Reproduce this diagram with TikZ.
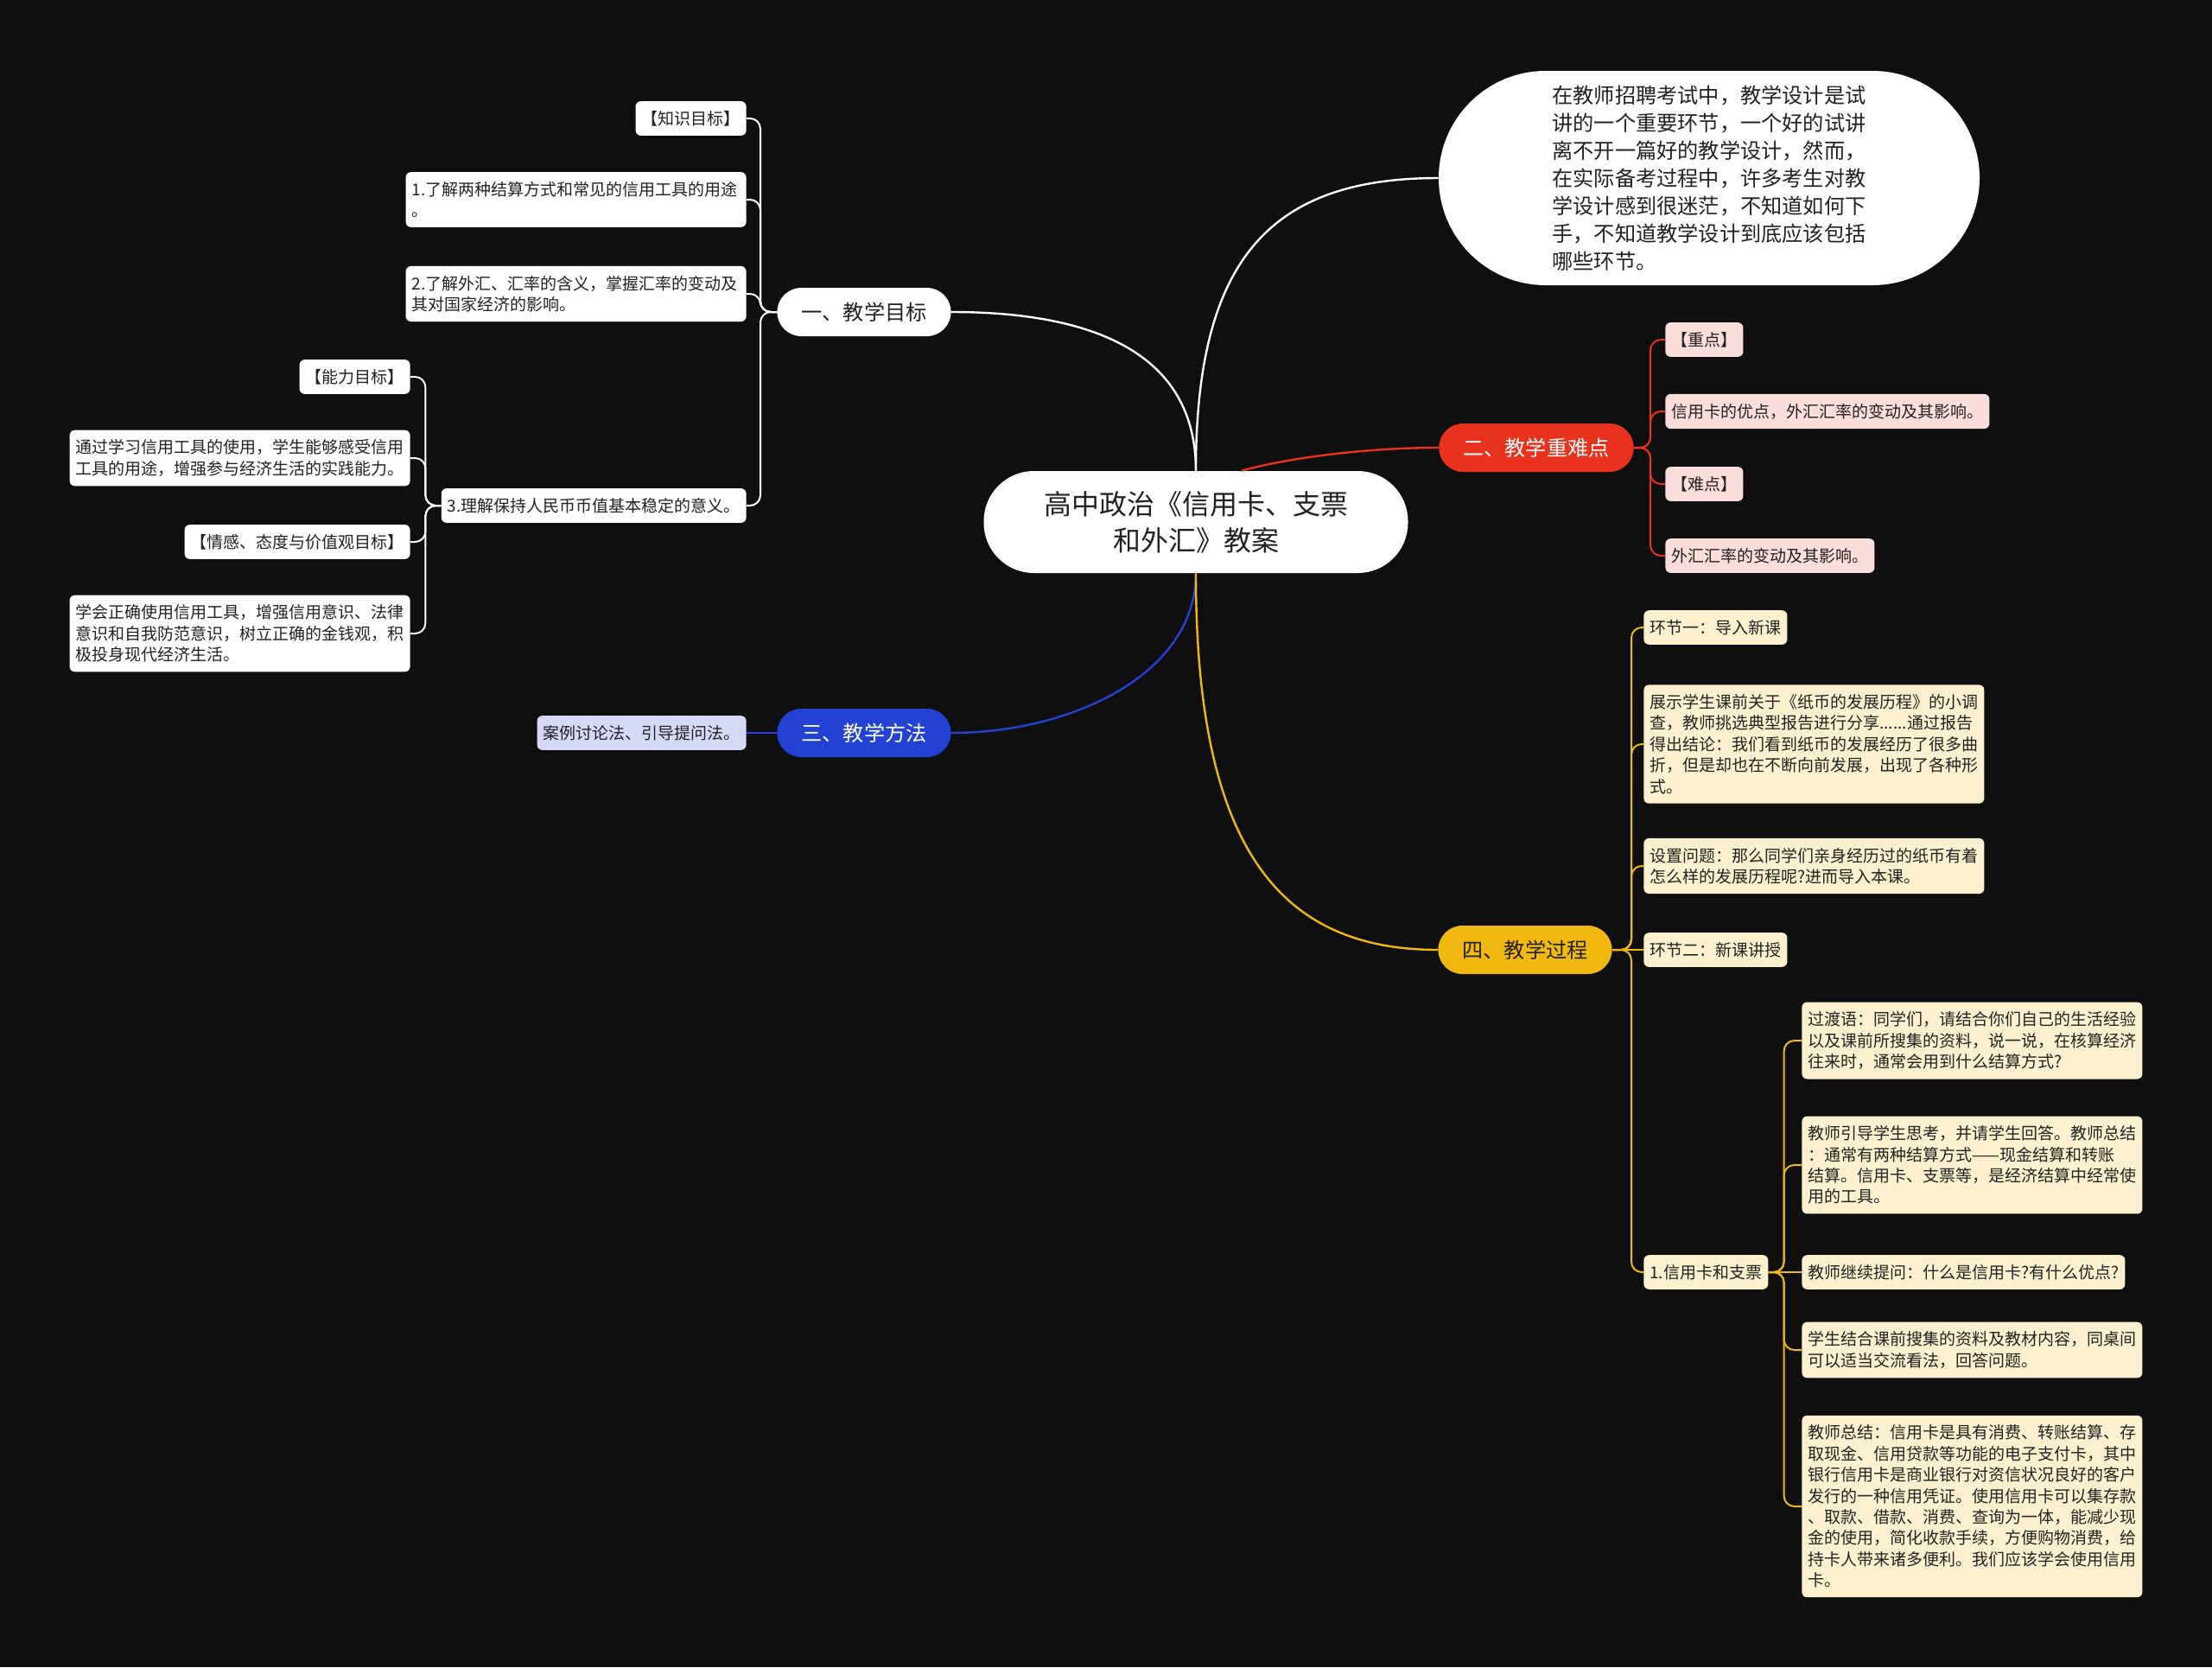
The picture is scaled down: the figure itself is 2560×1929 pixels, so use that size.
\documentclass[tikz,border=0pt]{standalone}
\usepackage{fontspec}
\newfontfamily\cjkfont{Noto Sans CJK SC}
\definecolor{bgdark}{HTML}{0F0F0F}
\definecolor{redmain}{HTML}{E8321D}
\definecolor{pinkbox}{HTML}{FBDDD9}
\definecolor{bluemain}{HTML}{2342D4}
\definecolor{lavbox}{HTML}{D5D9F6}
\definecolor{yelmain}{HTML}{F1B80F}
\definecolor{creambox}{HTML}{FCF0CF}
\definecolor{inktxt}{HTML}{222222}

\begin{document}
\begin{tikzpicture}[x=0.5pt,y=-0.5pt,
  leaf/.style={rounded corners=3pt, inner xsep=3.5pt, inner ysep=5.5pt, align=left,
    font=\cjkfont\fontsize{9.5}{12.2}\selectfont, text=inktxt},
  wide/.style={text width=190pt},
  wleaf/.style={leaf, fill=white},
  rleaf/.style={leaf, fill=pinkbox},
  yleaf/.style={leaf, fill=creambox},
  bleaf/.style={leaf, fill=lavbox},
  pill/.style={rounded corners=14pt, minimum height=28pt, inner xsep=14pt,
    font=\cjkfont\fontsize{12.1}{15}\selectfont},
  rootbox/.style={fill=white, rounded corners=29pt, minimum width=245.5pt, minimum height=59pt,
    align=center, text=inktxt, font=\cjkfont\fontsize{16}{21}\selectfont},
  introbox/.style={fill=white, rounded corners=62pt, minimum width=313pt, minimum height=124pt,
    align=left, text=inktxt, font=\cjkfont\fontsize{12.1}{16}\selectfont},
  mainlink/.style={line width=1.2pt},
  sublink/.style={line width=1pt, rounded corners=6pt}]

% background
\fill[bgdark] (0,0) rectangle (2560,1929);

% centre and intro
\node[rootbox] (root) at (1384,604) {高中政治《信用卡、支票\\和外汇》教案};
\node[introbox] (intro) at (1978,206) {在教师招聘考试中，教学设计是试\\讲的一个重要环节，一个好的试讲\\离不开一篇好的教学设计，然而，\\在实际备考过程中，许多考生对教\\学设计感到很迷茫，不知道如何下\\手，不知道教学设计到底应该包括\\哪些环节。};

% main branches
\node[pill, fill=white, text=inktxt] (goal) at (1000,361) {一、教学目标};
\node[pill, fill=redmain, text=white] (keys) at (1778,518) {二、教学重难点};
\node[pill, fill=bluemain, text=white] (method) at (1000,848) {三、教学方法};
\node[pill, fill=yelmain, text=inktxt] (proc) at (1765,1099) {四、教学过程};

\draw[mainlink, white] (root.north) .. controls (1384,300) and (1470,206) .. (intro.west);
\draw[mainlink, white] (root.north) .. controls (1384,400) and (1250,361) .. (goal.east);
\draw[mainlink, redmain] ([xshift=26.5pt]root.north) .. controls (1490,530) and (1580,518) .. (keys.west);
\draw[mainlink, bluemain] (root.south) .. controls (1384,780) and (1240,848) .. (method.east);
\draw[mainlink, yelmain] (root.south) .. controls (1384,980) and (1480,1099) .. (proc.west);

% goals
\node[wleaf, anchor=east] (k1) at (864,137) {【知识目标】};
\node[wleaf, wide, anchor=east] (k2) at (864,231) {1.了解两种结算方式和常见的信用工具的用途\\。};
\node[wleaf, wide, anchor=east] (k3) at (864,340) {2.了解外汇、汇率的含义，掌握汇率的变动及\\其对国家经济的影响。};
\node[wleaf, anchor=east] (k4) at (864,585) {3.理解保持人民币币值基本稳定的意义。};
\foreach \k in {k1,k2,k3,k4}
  \draw[sublink, white] (goal.west) -- ++(-19,0) |- (\k.east);

\node[wleaf, anchor=east] (a1) at (475,436) {【能力目标】};
\node[wleaf, wide, anchor=east] (a2) at (475,530) {通过学习信用工具的使用，学生能够感受信用\\工具的用途，增强参与经济生活的实践能力。};
\node[wleaf, anchor=east] (a3) at (475,627) {【情感、态度与价值观目标】};
\node[wleaf, wide, anchor=east] (a4) at (475,733) {学会正确使用信用工具，增强信用意识、法律\\意识和自我防范意识，树立正确的金钱观，积\\极投身现代经济生活。};
\foreach \a in {a1,a2,a3,a4}
  \draw[sublink, white] (k4.west) -- ++(-18,0) |- (\a.east);

% key points
\node[rleaf, anchor=west] (r1) at (1927,393) {【重点】};
\node[rleaf, anchor=west] (r2) at (1927,476) {信用卡的优点，外汇汇率的变动及其影响。};
\node[rleaf, anchor=west] (r3) at (1927,560) {【难点】};
\node[rleaf, anchor=west] (r4) at (1927,643) {外汇汇率的变动及其影响。};
\foreach \r in {r1,r2,r3,r4}
  \draw[sublink, redmain] (keys.east) -- ++(19,0) |- (\r.west);

% method
\node[bleaf, anchor=east] (c1) at (864,848) {案例讨论法、引导提问法。};
\draw[mainlink, bluemain] (method.west) -- (c1.east);

% process
\node[yleaf, anchor=west] (y1) at (1902,726) {环节一：导入新课};
\node[yleaf, wide, anchor=west] (y2) at (1902,861) {展示学生课前关于《纸币的发展历程》的小调\\查，教师挑选典型报告进行分享......通过报告\\得出结论：我们看到纸币的发展经历了很多曲\\折，但是却也在不断向前发展，出现了各种形\\式。};
\node[yleaf, wide, anchor=west] (y3) at (1902,1002) {设置问题：那么同学们亲身经历过的纸币有着\\怎么样的发展历程呢?进而导入本课。};
\node[yleaf, anchor=west] (y4) at (1902,1099) {环节二：新课讲授};
\node[yleaf, anchor=west] (y5) at (1902,1472) {1.信用卡和支票};
\foreach \y in {y1,y2,y3,y5}
  \draw[sublink, yelmain] (proc.east) -- ++(22,0) |- (\y.west);
\draw[sublink, yelmain] (proc.east) -- (y4.west);

\node[yleaf, wide, anchor=west] (s1) at (2085,1204) {过渡语：同学们，请结合你们自己的生活经验\\以及课前所搜集的资料，说一说，在核算经济\\往来时，通常会用到什么结算方式?};
\node[yleaf, wide, anchor=west] (s2) at (2085,1348) {教师引导学生思考，并请学生回答。教师总结\\：通常有两种结算方式——现金结算和转账\\结算。信用卡、支票等，是经济结算中经常使\\用的工具。};
\node[yleaf, anchor=west] (s3) at (2085,1472) {教师继续提问：什么是信用卡?有什么优点?};
\node[yleaf, wide, anchor=west] (s4) at (2085,1562) {学生结合课前搜集的资料及教材内容，同桌间\\可以适当交流看法，回答问题。};
\node[yleaf, wide, anchor=west] (s5) at (2085,1743) {教师总结：信用卡是具有消费、转账结算、存\\取现金、信用贷款等功能的电子支付卡，其中\\银行信用卡是商业银行对资信状况良好的客户\\发行的一种信用凭证。使用信用卡可以集存款\\、取款、借款、消费、查询为一体，能减少现\\金的使用，简化收款手续，方便购物消费，给\\持卡人带来诸多便利。我们应该学会使用信用\\卡。};
\foreach \s in {s1,s2,s4,s5}
  \draw[sublink, yelmain] (y5.east) -- ++(18,0) |- (\s.west);
\draw[sublink, yelmain] (y5.east) -- (s3.west);
\end{tikzpicture}
\end{document}
